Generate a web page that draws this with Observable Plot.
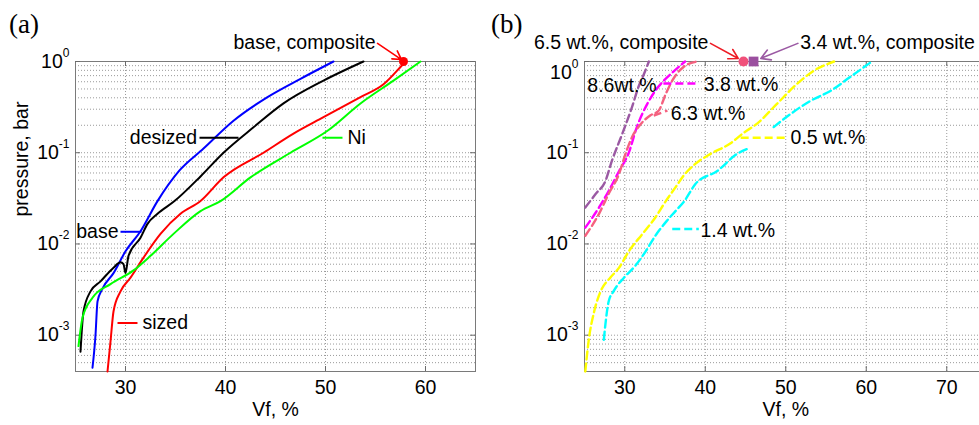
<!DOCTYPE html>
<html><head><meta charset="utf-8">
<script src="https://cdn.jsdelivr.net/npm/d3@7"></script>
<script src="https://cdn.jsdelivr.net/npm/@observablehq/plot@0.6"></script>
<style>
html,body{margin:0;padding:0;background:#fff;}
#wrap{position:relative;width:979px;height:425px;overflow:hidden;background:#fff;}
.panel{position:absolute;top:0;}
.panel svg{max-width:none !important;}
.tag{position:absolute;font-family:"Liberation Serif","Times New Roman",serif;font-size:27px;line-height:1.15;color:#000;}
</style></head><body>
<div id="wrap">
<div id="pa" class="panel" style="left:0;width:490px"></div>
<div id="pb" class="panel" style="left:490px;width:510px"></div>
<div class="tag" style="left:9px;top:9px">(a)</div>
<div class="tag" style="left:491px;top:9px">(b)</div>
</div>
<script>
// ---------- Panel (a) data: Vf (%) and pressure (bar) ----------
const vfBase    = [26.7, 27.0, 27.2, 27.7, 28.8, 30.0, 31.5, 33.2, 35.4, 37.8, 40.8, 44.2, 47.5, 50.8];
const pBase     = [0.00044, 0.0010, 0.00234, 0.00324, 0.00479, 0.0083, 0.0138, 0.0295, 0.0640, 0.1110, 0.224, 0.407, 0.646, 1.0];
const vfDesized = [25.5, 25.8, 26.5, 27.5, 28.8, 29.5, 29.8, 30.0, 30.3, 31.5, 32.2, 33.2, 34.9, 37.5, 39.8, 42.8, 45.8, 49.8, 53.8];
const pDesized  = [0.00066, 0.00182, 0.00302, 0.00389, 0.0055, 0.0063, 0.0060, 0.0048, 0.0074, 0.0117, 0.0166, 0.0214, 0.0295, 0.0550, 0.100, 0.190, 0.347, 0.617, 1.0];
const vfSized   = [28.2, 28.5, 28.8, 29.5, 30.5, 31.8, 33.5, 35.5, 37.5, 39.8, 43.8, 46.8, 49.8, 53.5, 55.8, 57.5, 58.0];
const pSized    = [0.0004, 0.00085, 0.00182, 0.00302, 0.00427, 0.00708, 0.0129, 0.0214, 0.0295, 0.0537, 0.100, 0.162, 0.245, 0.407, 0.562, 0.871, 1.0];
const vfNi      = [25.3, 25.7, 26.7, 28.5, 30.8, 32.5, 34.8, 37.5, 39.5, 42.5, 46.5, 50.2, 53.5, 56.8, 59.5];
const pNi       = [0.00076, 0.00155, 0.00257, 0.00363, 0.00513, 0.00741, 0.0129, 0.0229, 0.0295, 0.0537, 0.100, 0.174, 0.347, 0.617, 1.0];

// ---------- Panel (b) data ----------
const vf86 = [25.1, 26.4, 27.6, 28.4, 29.7, 30.9, 31.7, 32.4, 33.0];
const p86  = [0.0251, 0.0355, 0.049, 0.0813, 0.162, 0.316, 0.525, 0.733, 1.0];
const vf38 = [25.1, 26.8, 28.0, 29.3, 30.5, 31.5, 32.8, 33.8, 34.85, 36.05, 37.5];
const p38  = [0.0151, 0.0251, 0.038, 0.0631, 0.100, 0.191, 0.343, 0.479, 0.617, 0.776, 1.0];
const vf63 = [25.1, 26.8, 28.0, 29.3, 30.1, 30.9, 32.0, 33.2, 34.2, 35.1, 35.9, 37.3, 39.0];
const p63  = [0.0123, 0.0214, 0.0355, 0.0589, 0.0977, 0.148, 0.207, 0.257, 0.288, 0.442, 0.617, 0.871, 1.0];
const vf05 = [25.1, 25.5, 26.2, 27.0, 28.2, 29.3, 30.5, 32.2, 33.8, 35.1, 36.3, 37.5, 38.8, 40.7, 43.1, 44.8, 46.4, 48.9, 51.4, 53.5, 56.0];
const p05  = [0.0004, 0.00085, 0.00182, 0.00302, 0.00427, 0.0055, 0.0083, 0.0129, 0.0195, 0.0295, 0.0417, 0.0589, 0.0759, 0.0977, 0.126, 0.166, 0.207, 0.343, 0.569, 0.794, 1.0];
const vf14 = [27.4, 27.6, 28.0, 28.6, 29.9, 31.3, 32.6, 33.8, 35.2, 36.3, 37.4, 38.8, 41.5, 44.0, 45.2, NaN, 48.5, 50.6, 53.1, 55.6, 58.0, 60.7];
const p14  = [0.00089, 0.00132, 0.00234, 0.00302, 0.00427, 0.00575, 0.0083, 0.0123, 0.0178, 0.0229, 0.0295, 0.0457, 0.0631, 0.0977, 0.110, NaN, 0.191, 0.266, 0.372, 0.479, 0.676, 1.0];

// composite points (Vf at p = 1 bar)
const compA = [{vf: 57.8, p: 1.0, label: "base, composite"}];
const compB = [{vf: 44.75, p: 1.0, label: "6.5 wt.%, composite"}, {vf: 46.0, p: 1.0, label: "3.4 wt.%, composite"}];

// tick values
const xTicksA = [30, 40, 50, 60];
const xTicksB = [30, 40, 50, 60, 70];
const yTickVals = [1e-3, 1e-2, 1e-1, 1];

// ---------- annotations (data units) ----------
const labelsA = [
  {text: "base, composite", x: 55.0, y: 1.62, anchor: "end"},
  {text: "desized", x: 37.15, y: 0.146, anchor: "end"},
  {text: "Ni", x: 52.2, y: 0.146, anchor: "start"},
  {text: "base", x: 29.3, y: 0.0136, anchor: "end"},
  {text: "sized", x: 31.7, y: 0.00136, anchor: "start"}
];
const leadersA = [
  {x1: 37.4, x2: 41.3, y1: 0.146, y2: 0.146, c: "desized"},
  {x1: 49.7, x2: 51.7, y1: 0.146, y2: 0.146, c: "Ni"},
  {x1: 29.5, x2: 31.6, y1: 0.0136, y2: 0.0136, c: "base"},
  {x1: 29.2, x2: 31.2, y1: 0.00136, y2: 0.00136, c: "sized"}
];
const arrowsA = [{x1: 55.2, y1: 1.58, x2: 57.6, y2: 1.05, c: "red"}];

const labelsB = [
  {text: "6.5 wt.%, composite", x: 40.4, y: 1.62, anchor: "end"},
  {text: "3.4 wt.%, composite", x: 51.8, y: 1.62, anchor: "start"},
  {text: "8.6wt.%", x: 25.35, y: 0.545, anchor: "start"},
  {text: "3.8 wt.%", x: 39.8, y: 0.555, anchor: "start"},
  {text: "6.3 wt.%", x: 35.7, y: 0.268, anchor: "start"},
  {text: "0.5 wt.%", x: 50.6, y: 0.146, anchor: "start"},
  {text: "1.4 wt.%", x: 39.4, y: 0.0138, anchor: "start"}
];
const leadersB = [
  {x1: 34.8, x2: 39.2, y1: 0.573, y2: 0.573, c: "3.8"},
  {x1: 33.6, x2: 35.3, y1: 0.255, y2: 0.29, c: "6.3"},
  {x1: 44.4, x2: 50.0, y1: 0.146, y2: 0.146, c: "0.5"},
  {x1: 35.9, x2: 39.2, y1: 0.0146, y2: 0.0146, c: "1.4"}
];
const arrowsB = [
  {x1: 40.65, y1: 1.58, x2: 44.1, y2: 1.08, c: "arrowRed"},
  {x1: 51.5, y1: 1.58, x2: 46.9, y2: 1.08, c: "8.6"}
];

// ---------- styles ----------
const colors = {
  base: "#0000ff", desized: "#000000", sized: "#ff0000", Ni: "#00ff00", red: "#ff0000",
  "8.6": "#9b59a3", "3.8": "#ff00ff", "6.3": "#f5617f", "0.5": "#ffff00", "1.4": "#00ffff",
  arrowRed: "#ee1c25", pinkDot: "#f0507a", purpleSq: "#9b4f9f"
};

const seriesA = [
  {name: "base", vf: vfBase, p: pBase},
  {name: "desized", vf: vfDesized, p: pDesized},
  {name: "sized", vf: vfSized, p: pSized},
  {name: "Ni", vf: vfNi, p: pNi}
];
const seriesB = [
  {name: "8.6", vf: vf86, p: p86},
  {name: "3.8", vf: vf38, p: p38},
  {name: "6.3", vf: vf63, p: p63},
  {name: "0.5", vf: vf05, p: p05},
  {name: "1.4", vf: vf14, p: p14}
];
const rows = s => s.vf.map((v, i) => ({vf: v, p: s.p[i]}));

const yDomain = [4e-4, 1];
const yGrid = d3.scaleLog().domain(yDomain).ticks();
const fontFam = '"Liberation Sans", Arial, Helvetica, sans-serif';
const gridStyle = {stroke: "#9a9a9a", strokeDasharray: "1,2", strokeWidth: 1};
const tickStyle = {stroke: "#6a6a6a", strokeWidth: 1};
const fmt = d => "10^" + Math.round(Math.log10(d));

function supers(svg) {
  const ns = "http://www.w3.org/2000/svg";
  svg.querySelectorAll('g[aria-label="y-axis tick label"] text').forEach(t => {
    const s = t.textContent; const i = s.indexOf("^"); if (i < 0) return;
    t.textContent = "";
    const a = document.createElementNS(ns, "tspan"); a.textContent = s.slice(0, i);
    const b = document.createElementNS(ns, "tspan"); b.textContent = s.slice(i + 1);
    b.setAttribute("dy", "-11"); b.setAttribute("font-size", "12");
    t.append(a, b);
  });
}
const labelMarks = labels => ["start", "end"].map(a =>
  Plot.text(labels.filter(d => d.anchor === a), {x: "x", y: "y", text: "text", textAnchor: a, fill: "#000"}));

// small inward ticks on all four sides (MATLAB style)
const innerTicks = (xt, xd) => [
  Plot.ruleX(xt, {x: d => d, y1: yDomain[0], y2: yDomain[0], insetTop: -5, ...tickStyle}),
  Plot.ruleX(xt, {x: d => d, y1: yDomain[1], y2: yDomain[1], insetBottom: -5, ...tickStyle}),
  Plot.ruleY(yTickVals, {y: d => d, x1: xd[0], x2: xd[0], insetRight: -5, ...tickStyle}),
  Plot.ruleY(yTickVals, {y: d => d, x1: xd[1], x2: xd[1], insetLeft: -5, ...tickStyle})
];

const baseStyle = {fontFamily: fontFam, fontSize: "19.5px", background: "transparent", overflow: "visible", color: "#000", maxWidth: "none"};

// ---------- Panel (a) ----------
const xDomA = [25, 65];
const plotA = Plot.plot({
  width: 490, height: 425,
  marginLeft: 75, marginRight: 15, marginTop: 61, marginBottom: 54,
  style: baseStyle,
  x: {domain: xDomA},
  y: {type: "log", domain: yDomain},
  marks: [
    Plot.ruleY(yGrid, {y: d => d, ...gridStyle}),
    Plot.ruleX(xTicksA, {x: d => d, ...gridStyle}),
    Plot.frame({stroke: "#7a7a7a", strokeWidth: 1}),
    ...innerTicks(xTicksA, xDomA),
    ...seriesA.map(s => Plot.line(rows(s), {x: "vf", y: "p", stroke: colors[s.name], strokeWidth: 2, curve: "monotone-x"})),
    Plot.link(leadersA, {x1: "x1", x2: "x2", y1: "y1", y2: "y2", stroke: d => colors[d.c], strokeWidth: 2}),
    Plot.arrow(arrowsA, {x1: "x1", y1: "y1", x2: "x2", y2: "y2", stroke: d => colors[d.c], strokeWidth: 1.6, headLength: 10}),
    Plot.dot(compA, {x: "vf", y: "p", r: 4.5, fill: colors.red, stroke: "none"}),
    ...labelMarks(labelsA),
    Plot.axisX({ticks: xTicksA, tickSize: 0, tickPadding: 9, label: null}),
    Plot.axisY({ticks: yTickVals, tickFormat: fmt, tickSize: 0, tickPadding: 6, label: null}),
    Plot.text(["Vf, %"], {frameAnchor: "bottom", dy: 44, text: d => d}),
    Plot.text(["pressure, bar"], {frameAnchor: "left", dx: -54, rotate: -90, text: d => d})
  ]
});
supers(plotA);
document.getElementById("pa").append(plotA);

// ---------- Panel (b) ----------
const xDomB = [25, 75];
const plotB = Plot.plot({
  width: 510, height: 425,
  marginLeft: 94, marginRight: 13.5, marginTop: 61, marginBottom: 54,
  style: baseStyle,
  x: {domain: xDomB},
  y: {type: "log", domain: yDomain},
  marks: [
    Plot.ruleY(yGrid, {y: d => d, ...gridStyle}),
    Plot.ruleX(xTicksB, {x: d => d, ...gridStyle}),
    Plot.frame({stroke: "#7a7a7a", strokeWidth: 1}),
    ...innerTicks(xTicksB, xDomB),
    ...seriesB.map(s => Plot.line(rows(s), {x: "vf", y: "p", stroke: colors[s.name], strokeWidth: 2.4, strokeDasharray: "8,4", curve: "monotone-x"})),
    Plot.link(leadersB, {x1: "x1", x2: "x2", y1: "y1", y2: "y2", stroke: d => colors[d.c], strokeWidth: 2.4, strokeDasharray: "8,4"}),
    Plot.arrow(arrowsB, {x1: "x1", y1: "y1", x2: "x2", y2: "y2", stroke: d => colors[d.c], strokeWidth: 1.6, headLength: 10}),
    Plot.dot(compB.slice(0, 1), {x: "vf", y: "p", r: 5, fill: colors.pinkDot, stroke: "none"}),
    Plot.dot(compB.slice(1), {x: "vf", y: "p", r: 5.5, symbol: "square", fill: colors.purpleSq, stroke: "none"}),
    ...labelMarks(labelsB),
    Plot.axisX({ticks: xTicksB, tickSize: 0, tickPadding: 9, label: null}),
    Plot.axisY({ticks: yTickVals.slice(0, 3), tickFormat: fmt, tickSize: 0, tickPadding: 6, label: null}),
    Plot.axisY({ticks: yTickVals.slice(3), tickFormat: fmt, tickSize: 0, tickPadding: 6, label: null, dy: 11}),
    Plot.text(["Vf, %"], {frameAnchor: "bottom", dy: 44, text: d => d})
  ]
});
supers(plotB);
document.getElementById("pb").append(plotB);
</script>
</body></html>
